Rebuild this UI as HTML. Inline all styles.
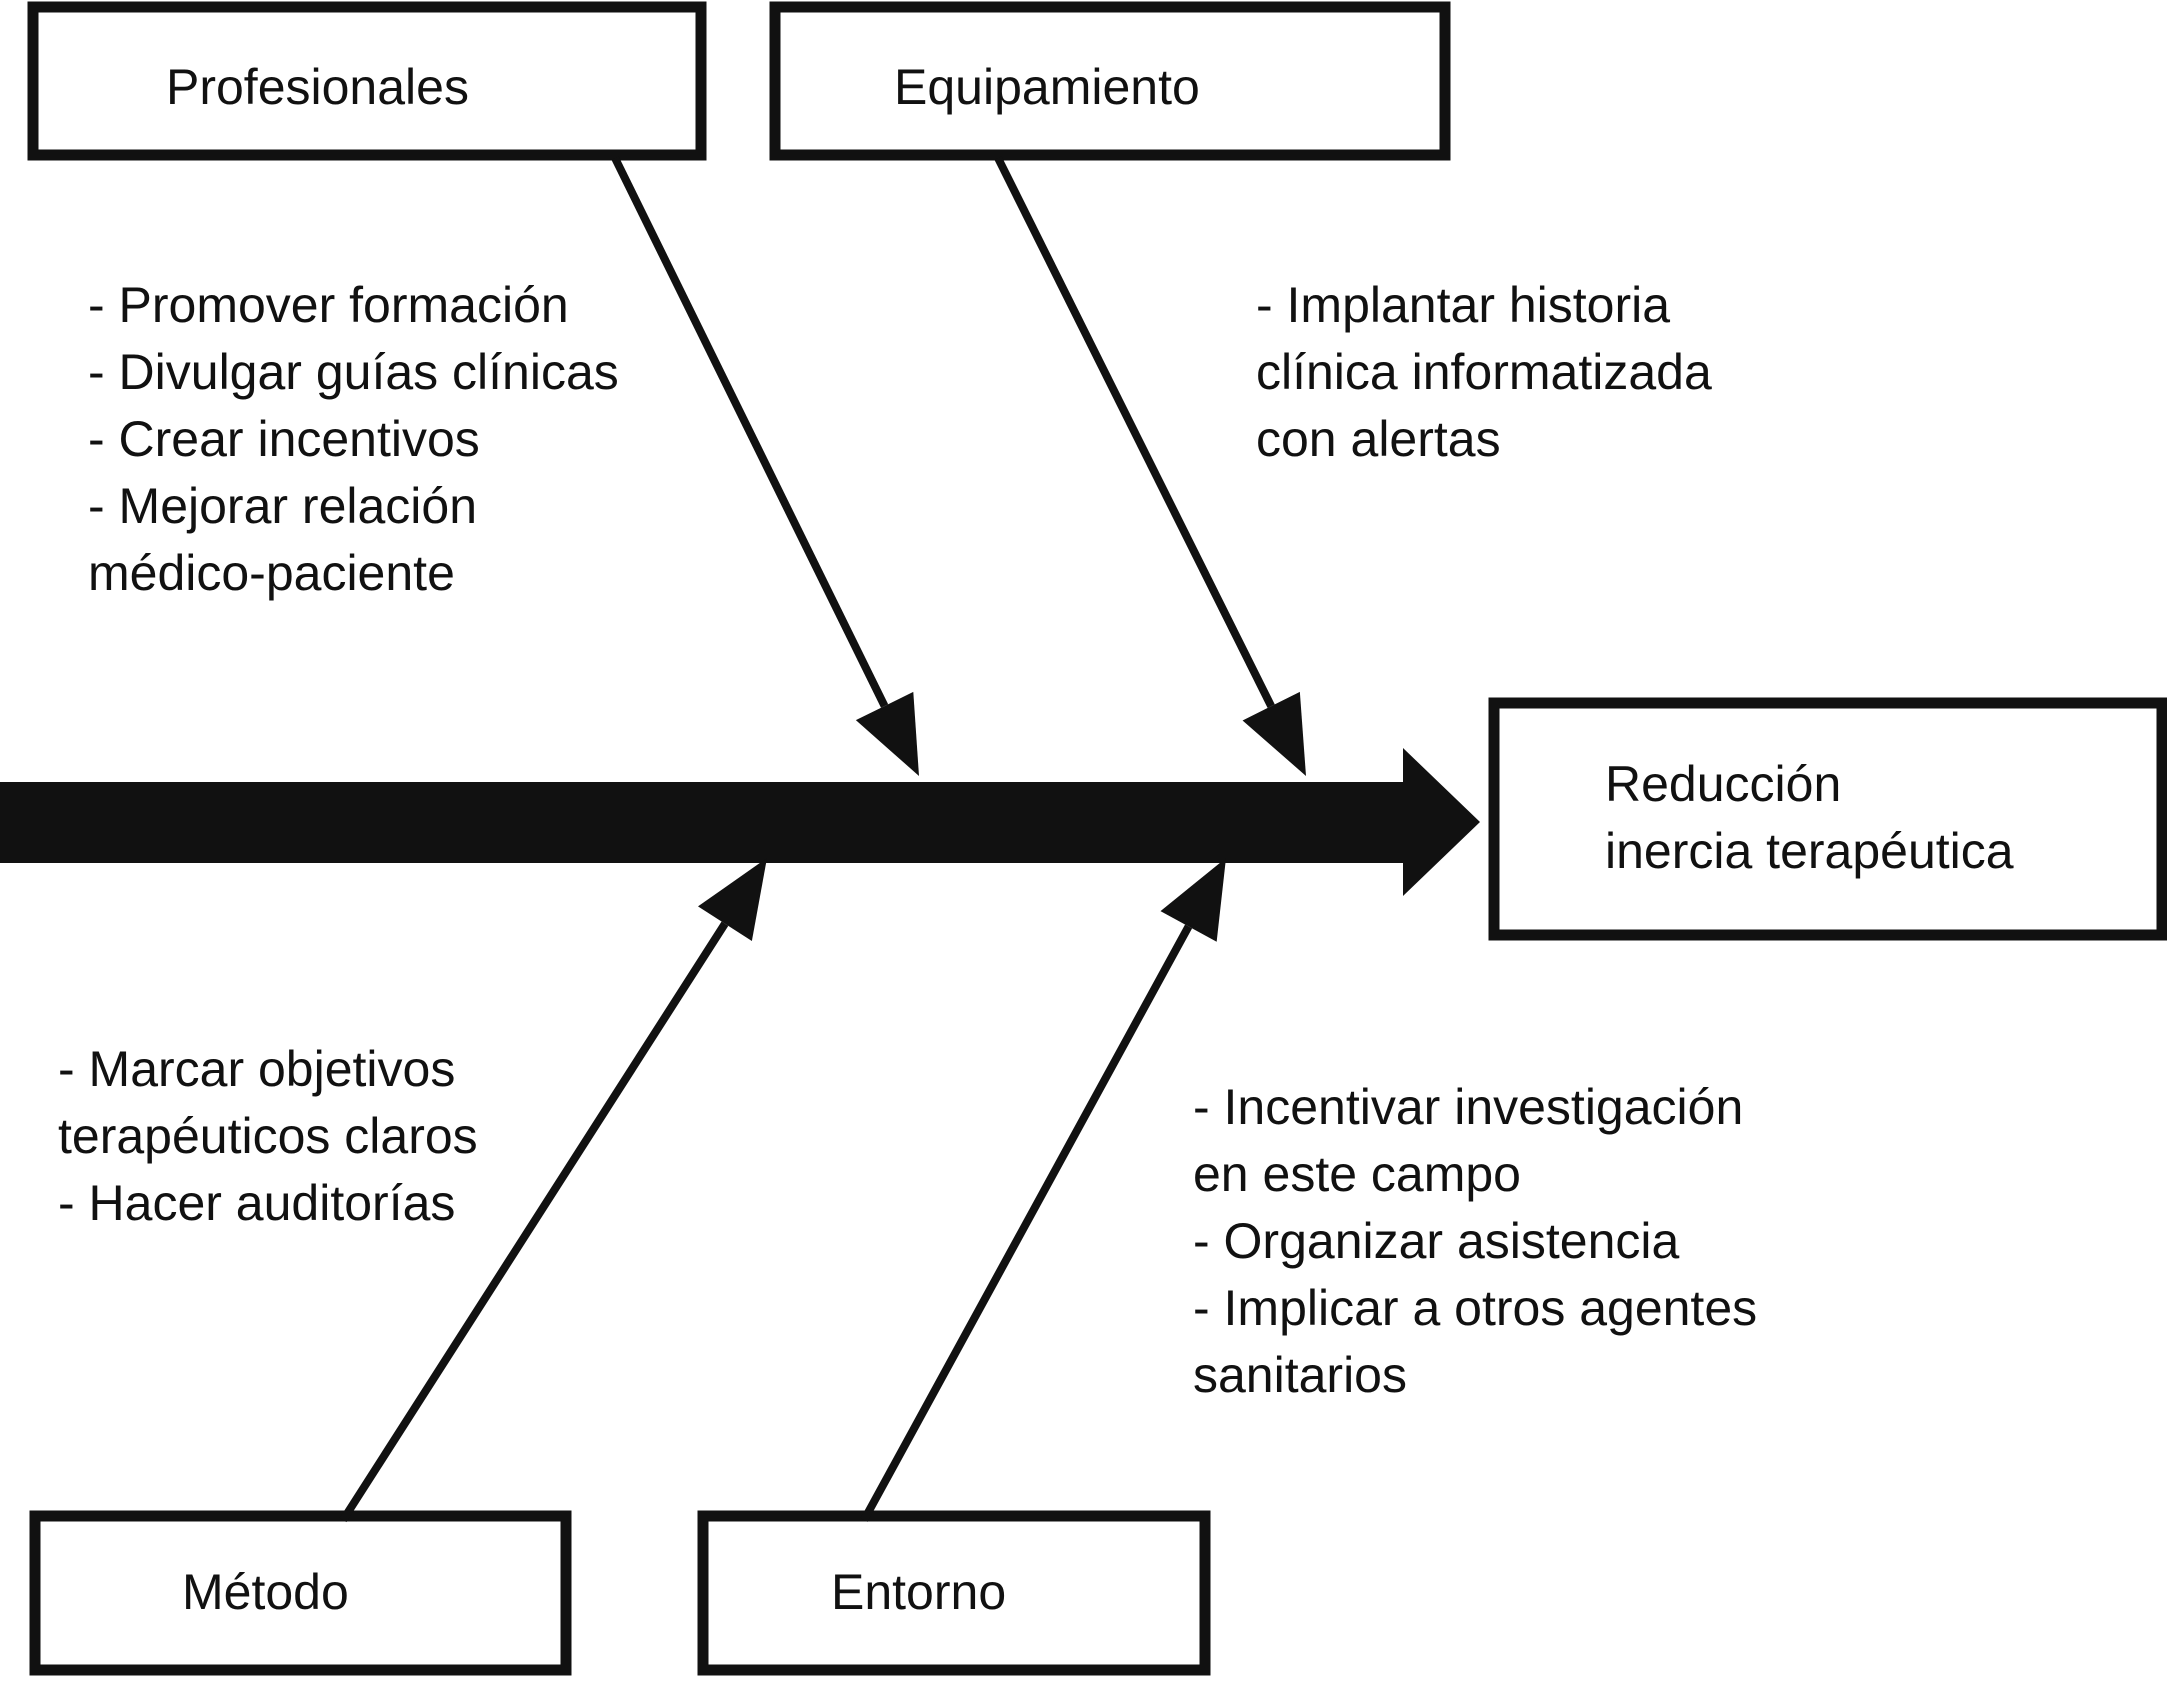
<!DOCTYPE html>
<html><head><meta charset="utf-8"><style>
html,body{margin:0;padding:0;background:#fff;}
svg{display:block;}
text{font-family:"Liberation Sans",sans-serif;font-size:50px;fill:#111;}
</style></head><body>
<svg id="s" width="2167" height="1690" viewBox="0 0 2167 1690" xmlns="http://www.w3.org/2000/svg">
<g fill="none" stroke="#111" stroke-width="11">
<rect x="33" y="7" width="668" height="148"/>
<rect x="775" y="7" width="670" height="148"/>
<rect x="1494" y="703" width="668" height="232"/>
<rect x="35" y="1516" width="531" height="154"/>
<rect x="703" y="1516" width="502" height="154"/>
</g>
<rect x="0" y="782" width="1405" height="81" fill="#111"/>
<polygon points="1403,748 1480,822 1403,896" fill="#111"/>
<g id="arrows" stroke="#111" stroke-width="8" fill="#111"></g>
<text x="166" y="104">Profesionales</text>
<text x="894" y="104">Equipamiento</text>
<text x="1605" y="801">Reducción</text>
<text x="1605" y="868">inercia terapéutica</text>
<text x="182" y="1609">Método</text>
<text x="831" y="1609">Entorno</text>
<text x="88" y="322">- Promover formación</text>
<text x="88" y="389">- Divulgar guías clínicas</text>
<text x="88" y="456">- Crear incentivos</text>
<text x="88" y="523">- Mejorar relación</text>
<text x="88" y="590">médico-paciente</text>
<text x="1256" y="322">- Implantar historia</text>
<text x="1256" y="389">clínica informatizada</text>
<text x="1256" y="456">con alertas</text>
<text x="58" y="1086">- Marcar objetivos</text>
<text x="58" y="1153">terapéuticos claros</text>
<text x="58" y="1220">- Hacer auditorías</text>
<text x="1193" y="1124">- Incentivar investigación</text>
<text x="1193" y="1191">en este campo</text>
<text x="1193" y="1258">- Organizar asistencia</text>
<text x="1193" y="1325">- Implicar a otros agentes</text>
<text x="1193" y="1392">sanitarios</text>
</svg>
<script>
var g=document.getElementById('arrows'),ns='http://www.w3.org/2000/svg';
[[615,158,919,776],[998,158,1306,776],[343,1520,767,858],[864,1520,1226,858]].forEach(function(a){
var dx=a[2]-a[0],dy=a[3]-a[1],L=Math.sqrt(dx*dx+dy*dy),ux=dx/L,uy=dy/L,h=78,w=32;
var bx=a[2]-ux*h,by=a[3]-uy*h;
var l=document.createElementNS(ns,'line');
l.setAttribute('x1',a[0]);l.setAttribute('y1',a[1]);l.setAttribute('x2',bx);l.setAttribute('y2',by);g.appendChild(l);
var p=document.createElementNS(ns,'polygon');
p.setAttribute('stroke','none');
p.setAttribute('points',a[2]+','+a[3]+' '+(bx-uy*w)+','+(by+ux*w)+' '+(bx+uy*w)+','+(by-ux*w));g.appendChild(p);
});
</script>
</body></html>
